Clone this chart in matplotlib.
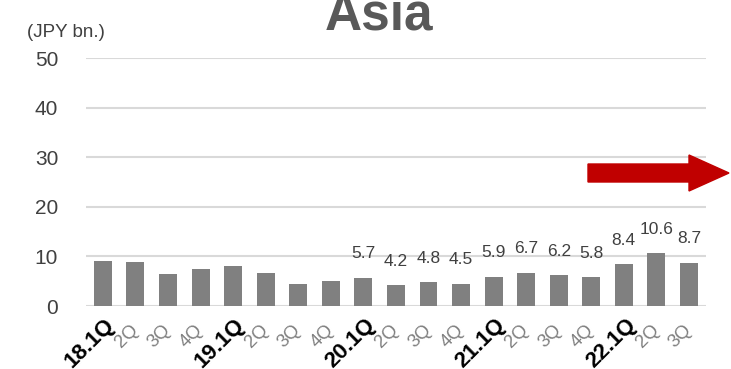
import matplotlib.pyplot as plt
from matplotlib.patches import FancyArrow
from matplotlib.transforms import ScaledTranslation

plt.rcParams['font.family'] = ['Liberation Sans', 'DejaVu Sans']

quarters = ['18.1Q', '2Q', '3Q', '4Q', '19.1Q', '2Q', '3Q', '4Q',
            '20.1Q', '2Q', '3Q', '4Q', '21.1Q', '2Q', '3Q', '4Q',
            '22.1Q', '2Q', '3Q']
sales = [9.0, 8.8, 6.4, 7.4, 8.0, 6.6, 4.4, 5.0,
         5.7, 4.2, 4.8, 4.5, 5.9, 6.7, 6.2, 5.8,
         8.4, 10.6, 8.7]
# values are printed from 20.1Q onward
first_labeled = 8

fig = plt.figure(figsize=(7.31, 3.69), dpi=100)
ax = fig.add_axes([0.1176, 0.1707, 0.848, 0.672])

x = list(range(len(sales)))
ax.bar(x, sales, width=0.55, color='#808080', zorder=3)

for i in range(first_labeled, len(sales)):
    ax.annotate(f'{sales[i]:.1f}', (x[i], sales[i]), xytext=(0, 12),
                textcoords='offset points', ha='center', va='bottom',
                fontsize=12.5, color='#404040')

ax.set_xlim(-0.52, len(sales) - 0.48)
ax.set_ylim(0, 50)
ax.set_yticks(range(0, 51, 10))
ax.yaxis.grid(True, color='#d9d9d9', linewidth=1.5, zorder=0)
ax.tick_params(axis='y', length=0, pad=20, labelsize=15, labelcolor='#404040')
ax.tick_params(axis='x', length=0, pad=0)
for side in ['top', 'right', 'left', 'bottom']:
    ax.spines[side].set_visible(False)

ax.set_xticks(x)
ax.set_xticklabels(quarters)
for lbl in ax.get_xticklabels():
    lbl.set_rotation(45)
    lbl.set_rotation_mode('anchor')
    lbl.set_ha('right')
    lbl.set_va('top')
    if '.' in lbl.get_text():
        # year-start quarters in bold
        lbl.set_fontsize(16)
        lbl.set_fontweight('bold')
        lbl.set_color('black')
        dx, dy = 1, -8
    else:
        lbl.set_fontsize(13.5)
        lbl.set_color('#808080')
        dx, dy = -6, -15
    lbl.set_transform(lbl.get_transform() +
                      ScaledTranslation(dx / 100, dy / 100, fig.dpi_scale_trans))

fig.text(0.519, 0.919, 'Asia', ha='center', va='baseline', fontsize=37,
         fontweight='bold', color='#595959')
fig.text(0.037, 0.9, '(JPY bn.)', ha='left', va='baseline', fontsize=13.5,
         color='#404040')

# red arrow pointing to the right
arrow = FancyArrow(588 / 731, 1 - 173 / 369, 101 / 731, 0,
                   width=18 / 369, head_width=36 / 369, head_length=40 / 731,
                   length_includes_head=False, color='#c00000',
                   transform=fig.transFigure, figure=fig)
fig.patches.append(arrow)

fig.savefig('out.png', dpi=100)
